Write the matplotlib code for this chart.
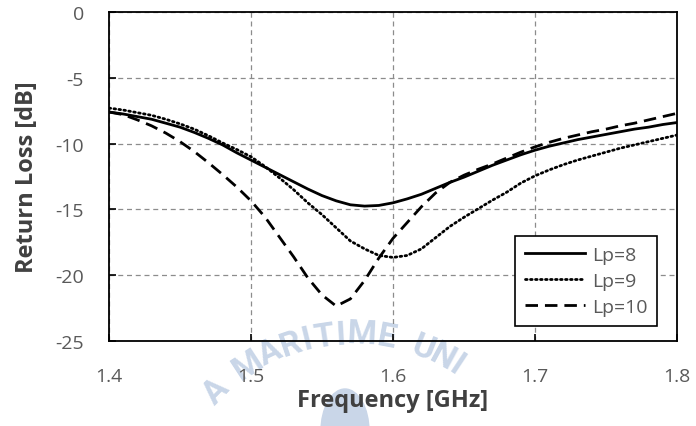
import matplotlib
matplotlib.use("Agg")
import matplotlib.pyplot as plt
from matplotlib.patches import Ellipse
import numpy as np

plt.rcParams['font.family'] = ['Open Sans', 'DejaVu Sans']
plt.rcParams['axes.unicode_minus'] = False

# 주파수 [GHz]
freq = [1.40, 1.41, 1.42, 1.43, 1.44, 1.45, 1.46, 1.47, 1.48, 1.49,
        1.50, 1.51, 1.52, 1.53, 1.54, 1.55, 1.56, 1.57, 1.58, 1.59,
        1.60, 1.61, 1.62, 1.63, 1.64, 1.65, 1.66, 1.67, 1.68, 1.69,
        1.70, 1.71, 1.72, 1.73, 1.74, 1.75, 1.76, 1.77, 1.78, 1.79, 1.80]

# 반사손실 [dB]
rl_lp8 = [-7.6, -7.75, -7.95, -8.15, -8.45, -8.75, -9.15, -9.6, -10.1, -10.7,
          -11.25, -11.8, -12.35, -12.9, -13.45, -13.95, -14.35, -14.65, -14.75, -14.7,
          -14.5, -14.2, -13.85, -13.4, -12.95, -12.55, -12.1, -11.65, -11.25, -10.85,
          -10.5, -10.2, -9.95, -9.7, -9.5, -9.3, -9.1, -8.9, -8.75, -8.55, -8.4]
rl_lp9 = [-7.3, -7.45, -7.65, -7.85, -8.15, -8.5, -8.9, -9.4, -9.95, -10.45,
          -11.0, -11.75, -12.6, -13.5, -14.5, -15.4, -16.4, -17.4, -18.0, -18.5,
          -18.65, -18.5, -18.0, -17.15, -16.3, -15.6, -14.95, -14.3, -13.7, -13.0,
          -12.45, -12.0, -11.6, -11.25, -10.95, -10.65, -10.35, -10.1, -9.85, -9.6, -9.35]
rl_lp10 = [-7.6, -7.8, -8.2, -8.65, -9.2, -9.85, -10.6, -11.45, -12.35, -13.3,
           -14.35, -15.6, -17.1, -18.6, -20.2, -21.5, -22.35, -21.8, -20.4, -18.7,
           -17.2, -16.0, -14.8, -13.75, -12.95, -12.4, -11.95, -11.55, -11.1, -10.65,
           -10.25, -9.9, -9.6, -9.35, -9.1, -8.9, -8.65, -8.45, -8.2, -7.95, -7.7]

labels = ['Lp=8', 'Lp=9', 'Lp=10']
xticks = [1.4, 1.5, 1.6, 1.7, 1.8]
yticks = [0, -5, -10, -15, -20, -25]

fig = plt.figure(figsize=(6.96, 4.27), dpi=100)
ax = fig.add_axes([109/696, 1-342/427, 568/696, 329/427])
ax.set_facecolor('none')

# 배경 워터마크: 원호를 따라 글자 배치 (화면 안에 들어오는 부분만)
wm_color = '#c9d6e8'
wm = 'A MARITIME UNI'
width = {'I': 0.55, 'M': 1.35, ' ': 0.7}
cx, cy, r = 352, 525, 190
k = 6.6
angs = [0.0]
for a_ch, b_ch in zip(wm[:-1], wm[1:]):
    angs.append(angs[-1] - (width.get(a_ch, 1.0) + width.get(b_ch, 1.0)) / 2 * k)
shift = 135.5 - angs[0]
for ch, ang in zip(wm, angs):
    if ch == ' ':
        continue
    ang = ang + shift
    a = np.deg2rad(ang)
    px = cx + r * np.cos(a)
    py = cy - r * np.sin(a)
    fig.text(px/696, 1 - py/427, ch, fontsize=24, fontweight='bold',
             family=['Roboto', 'DejaVu Sans'],
             color=wm_color, rotation=ang - 90, ha='center', va='center',
             zorder=-5)
fig.patches.append(Ellipse((345/696, 1 - 432/427), 48/696, 84/427,
                           transform=fig.transFigure, color=wm_color, zorder=-5))

ax.plot(freq, rl_lp8, color='black', lw=2.0, label=labels[0])
ax.plot(freq, rl_lp9, color='black', lw=2.0, linestyle=(0, (0.6, 1.2)),
        dash_capstyle='round', label=labels[1])
ax.plot(freq, rl_lp10, color='black', lw=2.0, linestyle=(0, (4.5, 2.5)), label=labels[2])

ax.set_xlim(1.4, 1.8)
ax.set_ylim(-25, 0)
ax.set_xticks(xticks)
ax.set_yticks(yticks)
ax.set_xticklabels(['1.4', '1.5', '1.6', '1.7', '1.8'])
ax.grid(True, color='#8c8c8c', linestyle=(0, (4, 3)), lw=0.9)
ax.tick_params(direction='in', length=5, width=1.2, colors='black',
               labelcolor='#595959', labelsize=14)
ax.tick_params(axis='x', pad=19)
ax.tick_params(axis='y', pad=18)
for s in ax.spines.values():
    s.set_linewidth(1.3)

ax.set_xlabel('Frequency [GHz]', fontsize=17, fontweight='bold', color='#404040', labelpad=2)
ax.set_ylabel('Return Loss [dB]', fontsize=17, fontweight='bold', color='#404040', labelpad=12)

leg = ax.legend(loc='lower right', bbox_to_anchor=(0.965, 0.046), borderaxespad=0,
                fancybox=False, edgecolor='black', fontsize=14, handlelength=3.1,
                labelspacing=0.42, borderpad=0.5, handletextpad=0.35, framealpha=1)
leg.get_frame().set_linewidth(1.2)
for t in leg.get_texts():
    t.set_color('#595959')

fig.savefig('out.png', dpi=100)
